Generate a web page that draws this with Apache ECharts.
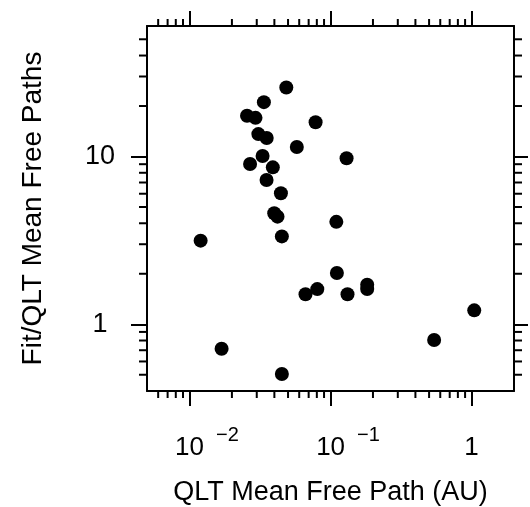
<!DOCTYPE html>
<html>
<head>
<meta charset="utf-8">
<script src="https://cdn.jsdelivr.net/npm/echarts@6/dist/echarts.min.js"></script>
<style>html,body{margin:0;padding:0;background:#fff}#c{width:530px;height:507px}</style>
</head>
<body>
<div id="c"></div>
<script>
// QLT mean free path (AU)
var qltMfp = [0.0486, 0.0337, 0.0256, 0.0294, 0.0784, 0.0308, 0.0353, 0.0577, 0.130, 0.0330,
  0.0269, 0.0390, 0.0352, 0.0445, 0.0399, 0.0421, 0.110, 0.0452, 0.0120, 0.111,
  0.0665, 0.0806, 0.132, 0.182, 0.182, 1.045, 0.543, 0.0169, 0.0452];
// Fit / QLT mean free path ratio
var fitRatio = [25.8, 21.1, 17.5, 17.0, 16.0, 13.6, 12.9, 11.4, 9.76, 10.07,
  9.02, 8.62, 7.25, 6.04, 4.59, 4.38, 4.08, 3.34, 3.15, 2.02,
  1.51, 1.62, 1.51, 1.72, 1.62, 1.21, 0.805, 0.715, 0.505];
var xRange = [0.005, 2];
var yRange = [0.4, 60];
var xMajorTicks = [0.01, 0.1, 1];
var xMinorTicks = [0.006, 0.007, 0.008, 0.009,
  0.02, 0.03, 0.04, 0.05, 0.06, 0.07, 0.08, 0.09,
  0.2, 0.3, 0.4, 0.5, 0.6, 0.7, 0.8, 0.9];
var yMajorTicks = [1, 10];
var yMinorTicks = [0.5, 0.6, 0.7, 0.8, 0.9, 2, 3, 4, 5, 6, 7, 8, 9, 20, 30, 40, 50];
var xTickLabels = {'-2': '{p|}{a|10}{s|\u22122}', '-1': '{p|}{a|10}{s|\u22121}', '0': '{q|}{a|1}'};
var yTickLabels = {'0': '1', '1': '10'};
var xTitle = 'QLT Mean Free Path (AU)';
var yTitle = 'Fit/QLT Mean Free Paths';

var FONT = 'Liberation Sans';
function decade(v) {
  var l = Math.log10(v), r = Math.round(l);
  return Math.abs(l - r) < 1e-6 ? String(r) : null;
}
var points = qltMfp.map(function (x, i) { return [x, fitRatio[i]]; });

function xAxisCfg(pos) {
  return {
    type: 'log', logBase: 10, position: pos, offset: 0, min: xRange[0], max: xRange[1],
    axisLine: {show: true, onZero: false, lineStyle: {color: '#000', width: 2}},
    axisTick: {show: true, inside: false, interval: 0, length: 15, customValues: xMajorTicks, lineStyle: {color: '#000', width: 2}},
    minorTick: {show: false}, splitLine: {show: false}, minorSplitLine: {show: false},
    axisLabel: {
      show: pos === 'bottom', interval: 0, margin: 34, customValues: xMajorTicks,
      formatter: function (v) { var d = decade(v); return d !== null && xTickLabels[d] ? xTickLabels[d] : ''; },
      rich: {
        p: {width: 35, lineHeight: 36},
        q: {width: 0, lineHeight: 36},
        a: {fontSize: 26, fontFamily: FONT, color: '#000', lineHeight: 28, verticalAlign: 'bottom'},
        s: {fontSize: 20, fontFamily: FONT, color: '#000', lineHeight: 20, verticalAlign: 'top', padding: [0, 0, 0, 12]}
      }
    },
    name: pos === 'bottom' ? xTitle : '', nameLocation: 'middle', nameGap: 88,
    nameTextStyle: {fontSize: 27, fontFamily: FONT, color: '#000'}
  };
}
function yAxisCfg(pos) {
  return {
    type: 'log', logBase: 10, position: pos, offset: 0, min: yRange[0], max: yRange[1],
    axisLine: {show: true, onZero: false, lineStyle: {color: '#000', width: 2}},
    axisTick: {show: true, inside: false, interval: 0, length: pos === 'left' ? 16 : 14, customValues: yMajorTicks, lineStyle: {color: '#000', width: 2}},
    minorTick: {show: false}, splitLine: {show: false}, minorSplitLine: {show: false},
    axisLabel: {
      show: pos === 'left', interval: 0, margin: 47, align: 'center', customValues: yMajorTicks,
      fontSize: 27, fontFamily: FONT, color: '#000',
      formatter: function (v) { var d = decade(v); return d !== null && yTickLabels[d] ? yTickLabels[d] : ''; }
    },
    name: pos === 'left' ? yTitle : '', nameLocation: 'middle', nameGap: 100, nameRotate: 90,
    nameTextStyle: {fontSize: 28, fontFamily: FONT, color: '#000'}
  };
}
// minor tick marks placed on the log axes' edges through the same scales
function tickSeries(data, size, offset) {
  return {
    type: 'scatter', xAxisIndex: 0, yAxisIndex: 0, data: data, clip: false, silent: true,
    symbol: 'rect', symbolSize: size, symbolOffset: offset, z: 5,
    large: false, progressive: 0,
    itemStyle: {color: '#000', opacity: 1}, emphasis: {disabled: true}, tooltip: {show: false}
  };
}
var bottomMinor = xMinorTicks.map(function (v) { return [v, yRange[0]]; });
var topMinor = xMinorTicks.map(function (v) { return [v, yRange[1]]; });
var leftMinor = yMinorTicks.map(function (v) { return [xRange[0], v]; });
var rightMinor = yMinorTicks.map(function (v) { return [xRange[1], v]; });

var chart = echarts.init(document.getElementById('c'), null, {renderer: 'canvas'});
chart.setOption({
  animation: false,
  backgroundColor: '#fff',
  grid: {left: 147, right: 16, top: 26, bottom: 116, containLabel: false, outerBoundsMode: 'none'},
  xAxis: [xAxisCfg('bottom'), xAxisCfg('top')],
  yAxis: [yAxisCfg('left'), yAxisCfg('right')],
  series: [
    tickSeries(bottomMinor, [2, 7], [0, 3.5]),
    tickSeries(topMinor, [2, 7], [0, -3.5]),
    tickSeries(leftMinor, [8, 2], [-4, 0]),
    tickSeries(rightMinor, [8, 2], [4, 0]),
    {
      type: 'scatter', xAxisIndex: 0, yAxisIndex: 0, data: points, z: 3,
      symbol: 'circle', symbolSize: 14, itemStyle: {color: '#000', opacity: 1}
    }
  ]
});
</script>
</body>
</html>
